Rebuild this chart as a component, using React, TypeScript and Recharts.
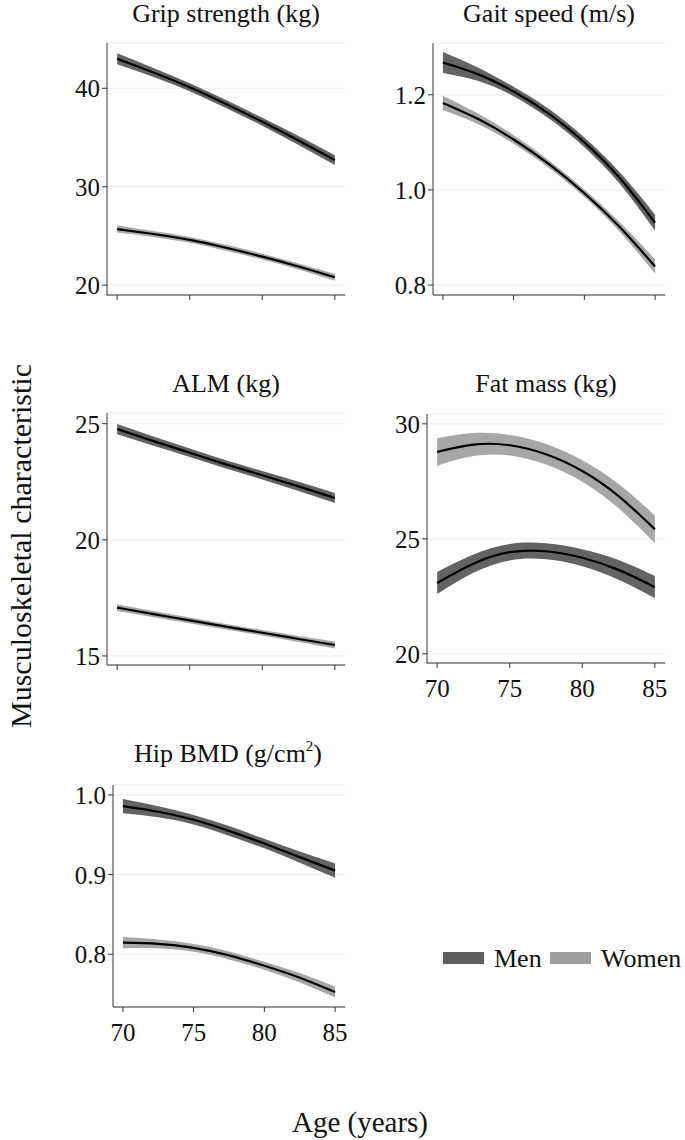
import { ComposedChart, Area, Line, XAxis, YAxis, CartesianGrid } from 'recharts';

const ages = [70, 72.5, 75, 77.5, 80, 82.5, 85];
const ageTicks = [70, 75, 80, 85];
const sexes = ['Men', 'Women'];

// Grip strength (kg)
const gripMen = [43.0, 41.6, 40.1, 38.4, 36.6, 34.7, 32.7];
const gripMenLo = [42.45, 41.15, 39.7, 38.0, 36.2, 34.25, 32.2];
const gripMenHi = [43.55, 42.05, 40.5, 38.8, 37.0, 35.15, 33.2];
const gripWomen = [25.7, 25.2, 24.6, 23.8, 22.9, 21.9, 20.8];
const gripWomenLo = [25.35, 24.9, 24.3, 23.5, 22.6, 21.6, 20.45];
const gripWomenHi = [26.05, 25.5, 24.9, 24.1, 23.2, 22.2, 21.15];
const gripTicks = [20, 30, 40];

// Gait speed (m/s)
const gaitMen = [1.268, 1.243, 1.207, 1.16, 1.1, 1.025, 0.931];
const gaitMenLo = [1.246, 1.229, 1.197, 1.15, 1.09, 1.013, 0.914];
const gaitMenHi = [1.29, 1.257, 1.217, 1.17, 1.11, 1.037, 0.948];
const gaitWomen = [1.183, 1.149, 1.106, 1.054, 0.993, 0.922, 0.839];
const gaitWomenLo = [1.168, 1.138, 1.097, 1.046, 0.985, 0.912, 0.824];
const gaitWomenHi = [1.198, 1.16, 1.115, 1.062, 1.001, 0.932, 0.854];
const gaitTicks = [0.8, 1.0, 1.2];

// ALM (kg)
const almMen = [24.77, 24.25, 23.75, 23.25, 22.78, 22.3, 21.8];
const almMenLo = [24.55, 24.05, 23.57, 23.07, 22.6, 22.1, 21.58];
const almMenHi = [24.99, 24.45, 23.93, 23.43, 22.96, 22.5, 22.02];
const almWomen = [17.08, 16.8, 16.53, 16.26, 16.0, 15.73, 15.47];
const almWomenLo = [16.93, 16.67, 16.41, 16.14, 15.88, 15.6, 15.32];
const almWomenHi = [17.23, 16.93, 16.65, 16.38, 16.12, 15.86, 15.62];
const almTicks = [15, 20, 25];

// Fat mass (kg)
const fatMen = [23.08, 23.92, 24.42, 24.46, 24.18, 23.65, 22.9];
const fatMenLo = [22.6, 23.52, 24.06, 24.11, 23.81, 23.22, 22.42];
const fatMenHi = [23.56, 24.32, 24.78, 24.81, 24.55, 24.08, 23.38];
const fatWomen = [28.78, 29.1, 29.07, 28.68, 27.95, 26.86, 25.42];
const fatWomenLo = [28.18, 28.6, 28.62, 28.23, 27.48, 26.33, 24.82];
const fatWomenHi = [29.38, 29.6, 29.52, 29.13, 28.42, 27.39, 26.02];
const fatTicks = [20, 25, 30];

// Hip BMD (g/cm2)
const bmdMen = [0.986, 0.979, 0.969, 0.955, 0.939, 0.922, 0.905];
const bmdMenLo = [0.977, 0.972, 0.963, 0.949, 0.933, 0.915, 0.896];
const bmdMenHi = [0.995, 0.986, 0.975, 0.961, 0.945, 0.929, 0.914];
const bmdWomen = [0.8145, 0.813, 0.808, 0.7985, 0.7855, 0.7705, 0.7525];
const bmdWomenLo = [0.8075, 0.8075, 0.803, 0.7935, 0.7805, 0.7645, 0.7455];
const bmdWomenHi = [0.8215, 0.8185, 0.813, 0.8035, 0.7905, 0.7765, 0.7595];
const bmdTicks = [0.8, 0.9, 1.0];

const MEN_FILL = '#636363';
const WOMEN_FILL = '#a7a7a7';
const FONT = '"Liberation Serif", "Times New Roman", serif';
const AXIS = '#333333';

function buildRows(m: number[], mLo: number[], mHi: number[], w: number[], wLo: number[], wHi: number[]) {
  return ages.map((age, i) => ({
    age,
    men: m[i],
    menBand: [mLo[i], mHi[i]],
    women: w[i],
    womenBand: [wLo[i], wHi[i]],
  }));
}

const Y_W = 60;
const M_TOP = 10;
const M_RIGHT = 10;
const X_H = 45;

type Box = { l: number; t: number; r: number; b: number };

function Panel({ rows, box, yDomain, yTicks, fmt, xLabels }: {
  rows: any[];
  box: Box;
  yDomain: [number, number];
  yTicks: number[];
  fmt: (v: number) => string;
  xLabels: boolean;
}) {
  const width = Y_W + (box.r - box.l) + M_RIGHT;
  const height = M_TOP + (box.b - box.t) + X_H;
  const tickStyle = { fontFamily: FONT, fontSize: 25, fill: '#111' };
  return (
    <div style={{ position: 'absolute', left: box.l - Y_W, top: box.t - M_TOP }}>
      <ComposedChart width={width} height={height} data={rows}
        margin={{ top: M_TOP, right: M_RIGHT, left: 0, bottom: 0 }}>
        <CartesianGrid vertical={false} stroke="#ececec" />
        <XAxis dataKey="age" type="number" domain={[69.3, 85.7]} ticks={ageTicks}
          allowDataOverflow height={X_H} stroke={AXIS} tickSize={5} tickMargin={11}
          tick={tickStyle} tickFormatter={(v) => (xLabels ? String(v) : '')} />
        <YAxis type="number" domain={yDomain} ticks={yTicks} allowDataOverflow width={Y_W}
          stroke={AXIS} tickSize={5} tickMargin={2} tick={tickStyle} tickFormatter={fmt} />
        <Area dataKey="menBand" type="natural" fill={MEN_FILL} fillOpacity={1} stroke="none"
          isAnimationActive={false} activeDot={false} />
        <Area dataKey="womenBand" type="natural" fill={WOMEN_FILL} fillOpacity={1} stroke="none"
          isAnimationActive={false} activeDot={false} />
        <Line dataKey="men" type="natural" stroke="#000" strokeWidth={2.2} dot={false}
          activeDot={false} isAnimationActive={false} />
        <Line dataKey="women" type="natural" stroke="#000" strokeWidth={2.2} dot={false}
          activeDot={false} isAnimationActive={false} />
      </ComposedChart>
    </div>
  );
}

const intFmt = (v: number) => String(v);
const decFmt = (v: number) => v.toFixed(1);

export default function App() {
  const titleStyle = { fontFamily: FONT, fontSize: 26, fill: '#111' } as const;
  return (
    <div style={{ position: 'relative', width: 685, height: 1140, background: '#fff', overflow: 'hidden' }}>
      <style>{'body{margin:0}'}</style>
      <Panel rows={buildRows(gripMen, gripMenLo, gripMenHi, gripWomen, gripWomenLo, gripWomenHi)}
        box={{ l: 107, t: 43, r: 345, b: 295 }} yDomain={[19, 44.6]} yTicks={gripTicks} fmt={intFmt} xLabels={false} />
      <Panel rows={buildRows(gaitMen, gaitMenLo, gaitMenHi, gaitWomen, gaitWomenLo, gaitWomenHi)}
        box={{ l: 433, t: 43, r: 665, b: 295 }} yDomain={[0.779, 1.309]} yTicks={gaitTicks} fmt={decFmt} xLabels={false} />
      <Panel rows={buildRows(almMen, almMenLo, almMenHi, almWomen, almWomenLo, almWomenHi)}
        box={{ l: 107, t: 413, r: 345, b: 665 }} yDomain={[14.61, 25.46]} yTicks={almTicks} fmt={intFmt} xLabels={false} />
      <Panel rows={buildRows(fatMen, fatMenLo, fatMenHi, fatWomen, fatWomenLo, fatWomenHi)}
        box={{ l: 427, t: 414, r: 665, b: 663 }} yDomain={[19.6, 30.43]} yTicks={fatTicks} fmt={intFmt} xLabels />
      <Panel rows={buildRows(bmdMen, bmdMenLo, bmdMenHi, bmdWomen, bmdWomenLo, bmdWomenHi)}
        box={{ l: 113, t: 785, r: 345, b: 1007 }} yDomain={[0.7337, 1.0126]} yTicks={bmdTicks} fmt={decFmt} xLabels />

      <svg width={685} height={1140} style={{ position: 'absolute', left: 0, top: 0, pointerEvents: 'none' }}>
        <text x={226} y={22} textAnchor="middle" {...titleStyle}>Grip strength (kg)</text>
        <text x={549} y={22} textAnchor="middle" {...titleStyle}>Gait speed (m/s)</text>
        <text x={226} y={392} textAnchor="middle" {...titleStyle}>ALM (kg)</text>
        <text x={546} y={392} textAnchor="middle" {...titleStyle}>Fat mass (kg)</text>
        <text x={228} y={762} textAnchor="middle" {...titleStyle}>
          Hip BMD (g/cm<tspan dy={-11} fontSize={15}>2</tspan><tspan dy={11}>)</tspan>
        </text>

        <text x={31} y={546} textAnchor="middle" transform="rotate(-90 31 546)"
          fontFamily={FONT} fontSize={30} fill="#111">Musculoskeletal characteristic</text>
        <text x={360} y={1132} textAnchor="middle" fontFamily={FONT} fontSize={29} fill="#111">Age (years)</text>

        {sexes.map((s, i) => (
          <g key={s}>
            <rect x={[443, 550][i]} y={952} width={41} height={12} fill={i === 0 ? '#5e5e5e' : '#9e9e9e'} />
            <text x={[494, 601][i]} y={967} fontFamily={FONT} fontSize={26} fill="#111">{s}</text>
          </g>
        ))}
      </svg>
    </div>
  );
}
